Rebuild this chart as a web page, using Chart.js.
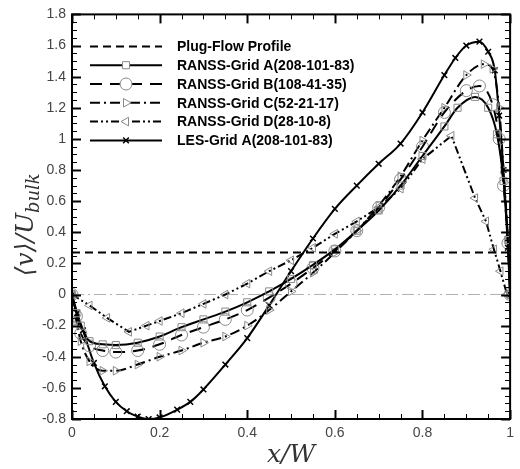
<!DOCTYPE html>
<html><head><meta charset="utf-8">
<script src="https://cdn.jsdelivr.net/npm/chart.js@4/dist/chart.umd.min.js"></script>
<style>html,body{margin:0;padding:0;background:#fff}#wrap{width:520px;height:469px}</style>
</head><body><div id="wrap"><canvas id="c" width="520" height="469"></canvas></div>
<script>
// ---- data ----
const plugFlowValue = 0.27;
const gridA_x = [0,0.01,0.02,0.04,0.07,0.1,0.15,0.2,0.25,0.3,0.35,0.4,0.45,0.5,0.55,0.6,0.65,0.7,0.75,0.8,0.85,0.88,0.92,0.95,0.97,0.985,0.995,1.0];
const gridA_y = [0,-0.12,-0.2,-0.3,-0.32,-0.325,-0.31,-0.27,-0.21,-0.16,-0.11,-0.05,0.02,0.1,0.19,0.29,0.41,0.54,0.7,0.89,1.08,1.2,1.27,1.2,1.03,0.73,0.35,0];
const gridB_x = [0,0.01,0.02,0.04,0.07,0.1,0.15,0.2,0.25,0.3,0.35,0.4,0.45,0.5,0.55,0.6,0.65,0.7,0.75,0.8,0.85,0.9,0.93,0.96,0.975,0.985,0.995,1.0];
const gridB_y = [0,-0.14,-0.25,-0.33,-0.36,-0.37,-0.36,-0.32,-0.26,-0.21,-0.16,-0.1,-0.02,0.07,0.17,0.28,0.41,0.56,0.74,0.95,1.17,1.31,1.34,1.22,1.0,0.7,0.33,0];
const gridC_x = [0,0.01,0.02,0.04,0.07,0.1,0.15,0.2,0.25,0.3,0.35,0.4,0.45,0.5,0.55,0.6,0.65,0.7,0.75,0.8,0.85,0.9,0.94,0.96,0.975,0.985,0.995,1.0];
const gridC_y = [0,-0.17,-0.3,-0.43,-0.49,-0.49,-0.45,-0.4,-0.36,-0.31,-0.27,-0.2,-0.1,0.02,0.14,0.27,0.41,0.57,0.76,0.99,1.2,1.41,1.48,1.45,1.2,0.8,0.35,0];
const gridD_x = [0,0.04,0.08,0.13,0.17,0.2,0.25,0.3,0.35,0.4,0.45,0.5,0.55,0.6,0.65,0.7,0.75,0.8,0.866,0.92,0.945,0.963,0.978,0.993];
const gridD_y = [0,-0.07,-0.15,-0.24,-0.2,-0.17,-0.12,-0.06,0.0,0.07,0.15,0.22,0.3,0.39,0.47,0.56,0.68,0.87,1.02,0.62,0.47,0.29,0.15,0];
const les_x = [0,0.012,0.025,0.05,0.075,0.1,0.125,0.15,0.175,0.2,0.24,0.27,0.3,0.35,0.4,0.45,0.5,0.55,0.6,0.65,0.7,0.75,0.8,0.85,0.875,0.9,0.93,0.95,0.965,0.975,0.985,0.995,1.0];
const les_y = [0,-0.12,-0.23,-0.44,-0.59,-0.69,-0.75,-0.785,-0.8,-0.79,-0.74,-0.69,-0.61,-0.45,-0.28,-0.07,0.15,0.36,0.55,0.7,0.84,0.97,1.17,1.41,1.52,1.6,1.625,1.56,1.44,1.15,0.8,0.3,0];
const xTicks = [0,0.2,0.4,0.6,0.8,1];
const yTicks = [-0.8,-0.6,-0.4,-0.2,0,0.2,0.4,0.6,0.8,1,1.2,1.4,1.6,1.8];
const legendLabels = ['Plug-Flow Profile','RANSS-Grid A(208-101-83)','RANSS-Grid B(108-41-35)','RANSS-Grid C(52-21-17)','RANSS-Grid D(28-10-8)','LES-Grid A(208-101-83)'];

const pts = (xs, ys) => xs.map((x,i)=>({x, y: ys[i]}));
const grey = '#8a8a8a';

const datasets = [
  {label:legendLabels[0], data: pts([0,1],[plugFlowValue,plugFlowValue]), borderColor:'#000', borderWidth:2, borderDash:[8,5], pointRadius:0, pointStyle:false},
  {label:legendLabels[1], data: pts(gridA_x,gridA_y), borderColor:'#000', borderWidth:2, borderDash:[], pointStyle:'rect', pointRadius:5, pointBorderColor:grey, pointBackgroundColor:'rgba(255,255,255,0)', pointBorderWidth:1, cubicInterpolationMode:'monotone'},
  {label:legendLabels[2], data: pts(gridB_x,gridB_y), borderColor:'#000', borderWidth:2, borderDash:[12,8], pointStyle:'circle', pointRadius:6, pointBorderColor:grey, pointBackgroundColor:'rgba(255,255,255,0)', pointBorderWidth:1, cubicInterpolationMode:'monotone'},
  {label:legendLabels[3], data: pts(gridC_x,gridC_y), borderColor:'#000', borderWidth:2, borderDash:[10,4,2,4], pointStyle:'triangle', rotation:90, pointRadius:5, pointBorderColor:grey, pointBackgroundColor:'rgba(255,255,255,0)', pointBorderWidth:1, cubicInterpolationMode:'monotone'},
  {label:legendLabels[4], data: pts(gridD_x,gridD_y), borderColor:'#000', borderWidth:2, borderDash:[8,3,2,3,2,3], pointStyle:'triangle', rotation:-90, pointRadius:5, pointBorderColor:grey, pointBackgroundColor:'rgba(255,255,255,0)', pointBorderWidth:1, tension:0},
  {label:legendLabels[5], data: pts(les_x,les_y), borderColor:'#000', borderWidth:2, borderDash:[], pointStyle:'crossRot', pointRadius:4, pointBorderColor:'#000', pointBorderWidth:1.5, cubicInterpolationMode:'monotone'}
];

const framePlugin = {
  id:'frame',
  beforeDatasetsDraw(chart){
    const {ctx, chartArea:a, scales:{x,y}} = chart;
    ctx.save();
    ctx.strokeStyle='#b0b0b0'; ctx.lineWidth=1.2; ctx.setLineDash([12,4,2,4]);
    const y0=y.getPixelForValue(0);
    ctx.beginPath(); ctx.moveTo(a.left,y0); ctx.lineTo(a.right,y0); ctx.stroke();
    ctx.restore();
  },
  afterDraw(chart){
    const {ctx, chartArea:a, scales:{x,y}} = chart;
    ctx.save();
    ctx.setLineDash([]);
    ctx.strokeStyle='#000';
    for(let v=-0.8; v<=1.8001; v+=0.05){
      const p=Math.round(y.getPixelForValue(v))+0.5;
      const major = Math.abs(v*5-Math.round(v*5))<1e-6;
      const L = major?9:5;
      ctx.lineWidth = major?2:1;
      ctx.beginPath(); ctx.moveTo(a.left,p); ctx.lineTo(a.left+L,p); ctx.stroke();
      ctx.beginPath(); ctx.moveTo(a.right,p); ctx.lineTo(a.right-L,p); ctx.stroke();
    }
    for(let v=0; v<=1.0001; v+=0.05){
      const p=Math.round(x.getPixelForValue(v))+0.5;
      const major = Math.abs(v*5-Math.round(v*5))<1e-6;
      const L = major?9:5;
      ctx.lineWidth = major?2:1;
      ctx.beginPath(); ctx.moveTo(p,a.bottom); ctx.lineTo(p,a.bottom-L); ctx.stroke();
      ctx.beginPath(); ctx.moveTo(p,a.top); ctx.lineTo(p,a.top+L); ctx.stroke();
    }
    ctx.lineWidth=2;
    ctx.strokeRect(a.left,a.top,a.right-a.left,a.bottom-a.top);
    // legend
    const lx0=a.left+18, lx1=a.left+90, tx=a.left+105;
    let ly=a.top+32;
    ctx.font='bold 14px "Liberation Sans", Arial, sans-serif';
    ctx.textBaseline='middle'; ctx.textAlign='left';
    chart.data.datasets.forEach((ds,i)=>{
      const yy = ly + i*18.8;
      ctx.save();
      ctx.strokeStyle=ds.borderColor; ctx.lineWidth=2; ctx.setLineDash(ds.borderDash||[]);
      ctx.beginPath(); ctx.moveTo(lx0,yy); ctx.lineTo(lx1,yy); ctx.stroke();
      ctx.restore();
      if(ds.pointStyle){
        ctx.save();
        ctx.fillStyle='#fff'; ctx.strokeStyle=ds.pointBorderColor; ctx.lineWidth=ds.pointBorderWidth;
        Chart.helpers.drawPoint(ctx,{pointStyle:ds.pointStyle, rotation:ds.rotation||0, radius:ds.pointRadius, borderWidth:ds.pointBorderWidth},(lx0+lx1)/2, yy);
        ctx.restore();
      }
      ctx.fillStyle='#000';
      ctx.fillText(ds.label, tx, yy+1);
    });
    // axis titles
    ctx.fillStyle='#333';
    ctx.textAlign='left'; ctx.textBaseline='alphabetic';
    const xt='x/W';
    ctx.font='italic 25px "DejaVu Serif", serif';
    const w=ctx.measureText(xt).width;
    ctx.fillText(xt, (a.left+a.right)/2 - w/2, 462);
    ctx.save();
    ctx.translate(33, (a.top+a.bottom)/2 + 8);
    ctx.rotate(-Math.PI/2);
    const f1='italic 25px "DejaVu Serif", serif', f2='italic 18px "DejaVu Serif", serif';
    const parts=[['\u27E8',f1,0],['v',f1,0],['\u27E9/',f1,0],['U',f1,0],['bulk',f2,6]];
    let tw=0; parts.forEach(p=>{ctx.font=p[1]; tw+=ctx.measureText(p[0]).width;});
    let cx=-tw/2;
    parts.forEach(p=>{ctx.font=p[1]; ctx.fillText(p[0],cx,p[2]); cx+=ctx.measureText(p[0]).width;});
    ctx.restore();
    ctx.restore();
  }
};

new Chart(document.getElementById('c'), {
  type:'line',
  data:{datasets},
  options:{
    responsive:false, animation:false,
    layout:{padding:{left:0,right:2,top:13,bottom:0}},
    plugins:{legend:{display:false}, tooltip:{enabled:false}},
    elements:{line:{fill:false}},
    scales:{
      x:{type:'linear', min:0, max:1, grid:{display:false, drawTicks:false}, border:{display:false},
         afterBuildTicks(s){ s.ticks = xTicks.map(v=>({value:v})); },
         afterFit(s){ s.height=50; },
         ticks:{padding:6, color:'#444', font:{family:'"Liberation Sans", Arial, sans-serif', size:14}, callback:v=>String(Number(v.toFixed(1)))}},
      y:{type:'linear', min:-0.8, max:1.8, grid:{display:false, drawTicks:false}, border:{display:false},
         afterBuildTicks(s){ s.ticks = yTicks.map(v=>({value:v})); },
         afterFit(s){ s.width=72; },
         ticks:{padding:6, color:'#444', font:{family:'"Liberation Sans", Arial, sans-serif', size:14}, callback:v=>String(Number(v.toFixed(1)))}}
    }
  },
  plugins:[framePlugin]
});
</script></body></html>
